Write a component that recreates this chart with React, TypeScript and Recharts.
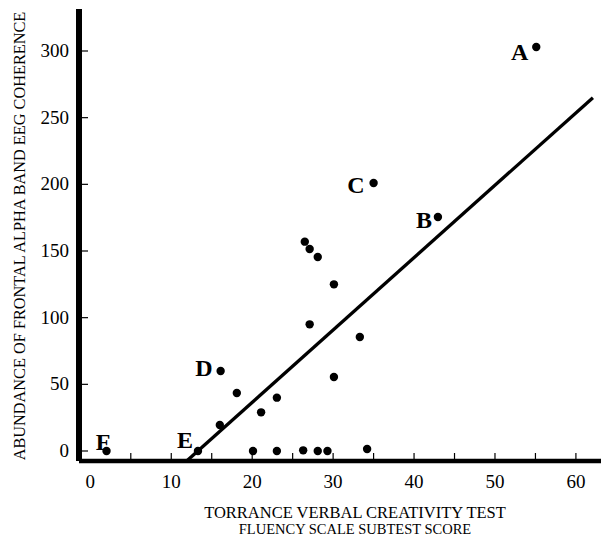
import React from 'react';
import { ScatterChart, Scatter, XAxis, YAxis, ReferenceLine } from 'recharts';

// scores (fluency subtest score vs. coherence abundance)
const SCORE_X = [55.1, 35.0, 42.95, 26.5, 27.1, 28.1, 30.1, 27.1, 33.3, 30.1, 16.1, 18.1, 21.1, 23.05, 16.0, 13.3, 2.0, 20.1, 23.05, 26.3, 28.1, 29.3, 34.2];
const COHERENCE_Y = [303, 201, 175.5, 157, 151.5, 145.5, 125, 95, 85.5, 55.5, 60, 43.5, 29, 40, 19.5, 0, 0, 0, 0, 0.5, 0, 0, 1.5];
const POINT_NAMES = ['A', 'C', 'B', '', '', '', '', '', '', '', 'D', '', '', '', '', 'E', 'F', '', '', '', '', '', ''];

// regression line end points
const FIT_X = [11.9, 62.1];
const FIT_Y = [-7.5, 265];

const X_TICKS = [0, 5, 10, 15, 20, 25, 30, 35, 40, 45, 50, 55, 60];
const Y_TICKS = [0, 50, 100, 150, 200, 250, 300];

const data = SCORE_X.map((x, i) => ({ x, y: COHERENCE_Y[i], name: POINT_NAMES[i] }));

const serif = '"Liberation Serif", "Times New Roman", serif';

// where each letter sits relative to its dot (right edge / baseline)
const LABEL_OFFSET: Record<string, [number, number]> = {
    A: [-8, 13],
    B: [-6, 11],
    C: [-9, 10],
    D: [-8, 5],
    E: [-5, -3],
    F: [4, -1],
};

const Dot = (props: any) => {
    const { cx, cy, payload } = props;
    const off = LABEL_OFFSET[payload.name];
    return (
        <g>
            <circle cx={cx} cy={cy} r={4.2} fill="#000" />
            {off && (
                <text x={cx + off[0]} y={cy + off[1]} textAnchor="end" fontFamily={serif} fontWeight="bold" fontSize={24} fill="#000">
                    {payload.name}
                </text>
            )}
        </g>
    );
};

const XTick = (props: any) => {
    const { x, y, payload } = props;
    return (
        <g>
            {payload.value > 0 && <line x1={x} x2={x} y1={y} y2={y - 8} stroke="#000" strokeWidth={1.2} />}
            {payload.value % 10 === 0 && (
                <text x={x} y={y + 27} textAnchor="middle" fontFamily={serif} fontSize={19} fill="#000">
                    {payload.value}
                </text>
            )}
        </g>
    );
};

const YTick = (props: any) => {
    const { x, y, payload } = props;
    return (
        <g>
            <line x1={x} x2={x + 9} y1={y} y2={y} stroke="#000" strokeWidth={1.2} />
            <text x={x - 10} y={y + 6} textAnchor="end" fontFamily={serif} fontSize={19} fill="#000">
                {payload.value}
            </text>
        </g>
    );
};

const XTitle = (props: any) => {
    const { viewBox } = props;
    const cx = viewBox.x + 276;
    return (
        <g fontFamily={serif} fill="#000">
            <text x={cx} y={viewBox.y + 57} textAnchor="middle" fontSize={16.5}>TORRANCE VERBAL CREATIVITY TEST</text>
            <text x={cx} y={viewBox.y + 73} textAnchor="middle" fontSize={14.5}>FLUENCY SCALE SUBTEST SCORE</text>
        </g>
    );
};

const YTitle = (props: any) => {
    const { viewBox } = props;
    const cx = viewBox.x + 19;
    const cy = viewBox.y + 227;
    return (
        <text x={cx} y={cy} transform={`rotate(-90, ${cx}, ${cy})`} textAnchor="middle" dominantBaseline="central" fontFamily={serif} fontSize={16.3} fill="#000">
            ABUNDANCE OF FRONTAL ALPHA BAND EEG COHERENCE
        </text>
    );
};

export default function App() {
    return (
        <div style={{ position: 'absolute', left: 0, top: 0, width: 602, height: 540, background: '#fff' }}>
            <ScatterChart width={602} height={540} margin={{ top: 9, right: 1, bottom: 0, left: 0 }}>
                <XAxis
                    type="number"
                    dataKey="x"
                    domain={[-1.4, 63.1]}
                    ticks={X_TICKS}
                    allowDataOverflow
                    height={79}
                    tickSize={0}
                    tickMargin={0}
                    tickLine={false}
                    tick={<XTick />}
                    axisLine={{ stroke: '#000', strokeWidth: 4.5 }}
                    label={{ content: <XTitle /> }}
                />
                <YAxis
                    type="number"
                    dataKey="y"
                    domain={[-7.5, 331.5]}
                    ticks={Y_TICKS}
                    allowDataOverflow
                    width={79}
                    tickSize={0}
                    tickMargin={0}
                    tickLine={false}
                    tick={<YTick />}
                    axisLine={{ stroke: '#000', strokeWidth: 6 }}
                    label={{ content: <YTitle /> }}
                />
                <ReferenceLine
                    segment={[{ x: FIT_X[0], y: FIT_Y[0] }, { x: FIT_X[1], y: FIT_Y[1] }]}
                    stroke="#000"
                    strokeWidth={3.3}
                    ifOverflow="visible"
                />
                <Scatter data={data} shape={<Dot />} isAnimationActive={false} />
            </ScatterChart>
        </div>
    );
}
